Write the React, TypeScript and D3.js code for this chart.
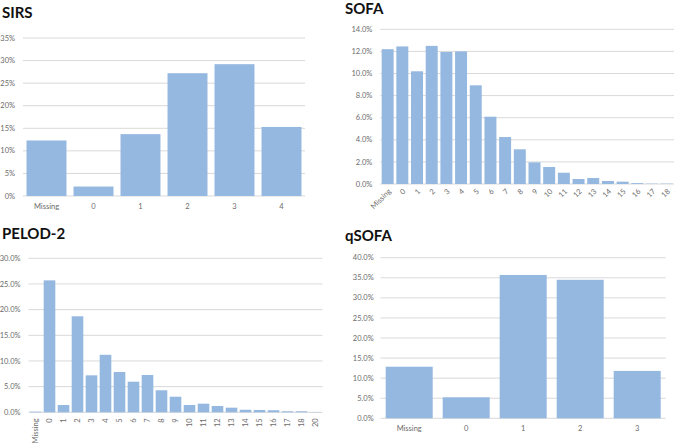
import React from "react";
import * as d3 from "d3";

const sirsCats = ["Missing", "0", "1", "2", "3", "4"];
const sirsVals = [12.3, 2.1, 13.7, 27.2, 29.2, 15.3];
const sirsTicks = [0, 5, 10, 15, 20, 25, 30, 35];

const sofaCats = ["Missing", "0", "1", "2", "3", "4", "5", "6", "7", "8", "9", "10", "11", "12", "13", "14", "15", "16", "17", "18"];
const sofaVals = [12.2, 12.45, 10.2, 12.5, 11.95, 12.0, 8.93, 6.09, 4.25, 3.14, 1.96, 1.54, 1.02, 0.45, 0.54, 0.27, 0.21, 0.08, 0.03, 0.03];
const sofaTicks = [0, 2, 4, 6, 8, 10, 12, 14];

const pelodCats = ["Missing", "0", "1", "2", "3", "4", "5", "6", "7", "8", "9", "10", "11", "12", "13", "14", "15", "16", "17", "18", "20"];
const pelodVals = [0.12, 25.7, 1.42, 18.7, 7.2, 11.2, 7.85, 5.96, 7.27, 4.29, 3.04, 1.42, 1.68, 1.23, 0.9, 0.5, 0.45, 0.4, 0.2, 0.2, 0.05];
const pelodTicks = [0, 5, 10, 15, 20, 25, 30];

const qsofaCats = ["Missing", "0", "1", "2", "3"];
const qsofaVals = [12.85, 5.23, 35.7, 34.5, 11.8];
const qsofaTicks = [0, 5, 10, 15, 20, 25, 30, 35, 40];

const BAR = "#95b8e1";
const GRID = "#d9d9d9";
const TXT = "#6b6b6b";
const FONT = "Lato, 'Open Sans', sans-serif";

type PanelProps = {
  title: string;
  cats: string[];
  vals: number[];
  ticks: number[];
  fmt: (v: number) => string;
  x0: number; x1: number; y0: number; y1: number;
  pad: number;
  titleX: number; titleY: number;
  labelMode: "flat" | "diag" | "vert";
  labelGap: number;
};

function Panel(p: PanelProps) {
  const x = d3.scaleBand<string>().domain(p.cats).range([p.x0, p.x1]).paddingInner(p.pad).paddingOuter(p.pad / 2);
  const yMax = p.ticks[p.ticks.length - 1];
  const y = d3.scaleLinear().domain([0, yMax]).range([p.y1, p.y0]);
  return (
    <g>
      <text x={p.titleX} y={p.titleY} fontFamily={FONT} fontWeight={700} fontSize={15} fill="#111">{p.title}</text>
      {p.ticks.map((t) => (
        <g key={t}>
          <line x1={p.x0} x2={p.x1} y1={y(t)} y2={y(t)} stroke={GRID} strokeWidth={1} />
          <text x={p.x0 - p.labelGap} y={y(t)} dy="0.35em" textAnchor="end" fontFamily={FONT} fontSize={7.5} fill={TXT}>{p.fmt(t)}</text>
        </g>
      ))}
      {p.cats.map((c, i) => (
        <rect key={c} x={x(c)} y={y(p.vals[i])} width={x.bandwidth()} height={p.y1 - y(p.vals[i])} fill={BAR} />
      ))}
      {p.cats.map((c) => {
        const cx = (x(c) as number) + x.bandwidth() / 2;
        if (p.labelMode === "flat") {
          return <text key={c} x={cx} y={p.y1 + 13} textAnchor="middle" fontFamily={FONT} fontSize={7.5} fill={TXT}>{c}</text>;
        }
        if (p.labelMode === "diag") {
          const ax = cx + 2, ay = p.y1 + 6;
          return <text key={c} x={ax} y={ay} dy="0.35em" transform={`rotate(-45 ${ax} ${ay})`} textAnchor="end" fontFamily={FONT} fontSize={7.5} fill={TXT}>{c}</text>;
        }
        const ax = cx, ay = p.y1 + 6;
        return <text key={c} x={ax} y={ay} dy="0.35em" transform={`rotate(-90 ${ax} ${ay})`} textAnchor="end" fontFamily={FONT} fontSize={7.5} fill={TXT}>{c}</text>;
      })}
    </g>
  );
}

export default function App() {
  const pct0 = (v: number) => `${v}%`;
  const pct1 = (v: number) => `${v.toFixed(1)}%`;
  return (
    <div style={{ position: "absolute", left: 0, top: 0 }}>
      <svg width={685} height={444} style={{ display: "block", background: "#fff" }}>
        <Panel title="SIRS" cats={sirsCats} vals={sirsVals} ticks={sirsTicks} fmt={pct0}
          x0={23} x1={305} y0={38} y1={196} pad={0.15} titleX={2} titleY={18} labelMode="flat" labelGap={8} />
        <Panel title="SOFA" cats={sofaCats} vals={sofaVals} ticks={sofaTicks} fmt={pct1}
          x0={380.3} x1={674} y0={29.3} y1={184} pad={0.185} titleX={345} titleY={13.5} labelMode="diag" labelGap={8} />
        <Panel title="PELOD-2" cats={pelodCats} vals={pelodVals} ticks={pelodTicks} fmt={pct1}
          x0={28.5} x1={322.5} y0={258.3} y1={412.3} pad={0.17} titleX={2} titleY={239} labelMode="vert" labelGap={8} />
        <Panel title="qSOFA" cats={qsofaCats} vals={qsofaVals} ticks={qsofaTicks} fmt={pct1}
          x0={380.7} x1={665.7} y0={257.7} y1={418.3} pad={0.175} titleX={345} titleY={241} labelMode="flat" labelGap={7} />
      </svg>
    </div>
  );
}
